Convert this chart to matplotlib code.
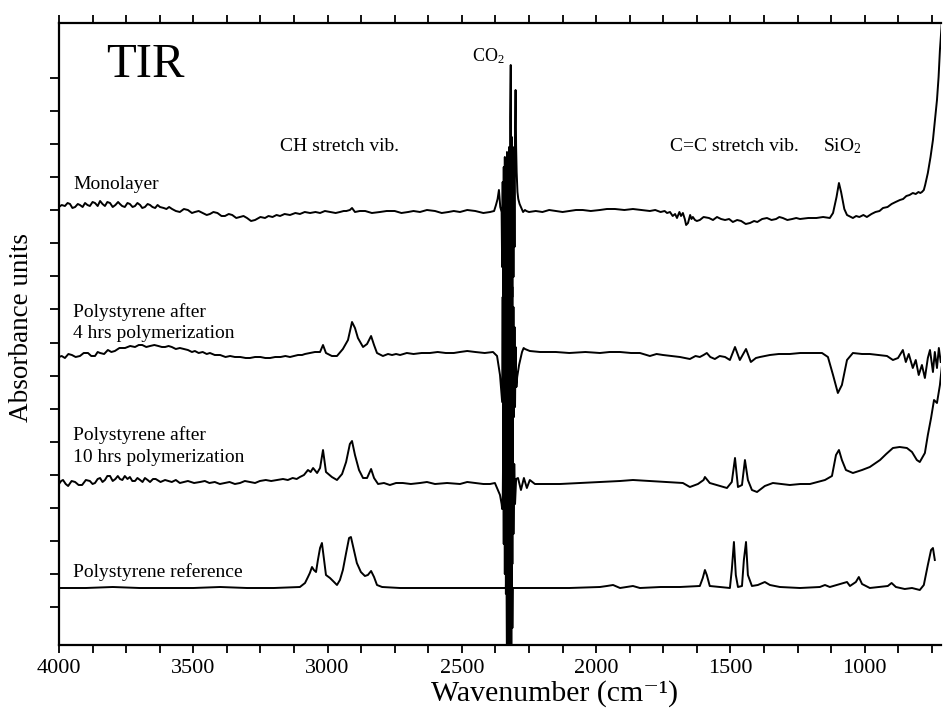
import numpy as np
import matplotlib.pyplot as plt
from matplotlib.ticker import MultipleLocator, FixedLocator

# Times-like serif, as in the scanned figure
plt.rcParams['font.family'] = ['Liberation Serif', 'DejaVu Serif']
plt.rcParams['mathtext.fontset'] = 'custom'
plt.rcParams['mathtext.rm'] = 'Liberation Serif'
plt.rcParams['mathtext.it'] = 'Liberation Serif:italic'

# --- spectra: (wavenumber cm-1, absorbance in arbitrary units) ---
monolayer = [
    (4000, 0), (3990, 2), (3978, 1), (3968, 4), (3959, 3), (3950, -1), (3940, 0), (3930, 3),
    (3922, 2), (3912, 0), (3903, 4), (3894, 2), (3885, 1), (3875, 5), (3866, 4), (3856, 1),
    (3847, 6), (3838, 3), (3829, 1), (3820, 5), (3810, 4), (3800, 0), (3790, 2), (3780, 5),
    (3773, 3), (3765, 1), (3755, 0), (3745, 4), (3736, 3), (3726, 0), (3717, 1), (3708, 4),
    (3698, 2), (3690, -1), (3680, 0), (3670, 3), (3661, 2), (3652, 0), (3642, -1), (3633, 2),
    (3624, 0), (3610, -1), (3600, -2), (3590, 0), (3579, -2), (3565, -4), (3550, -5),
    (3535, -2), (3520, -3), (3505, -6), (3494, -5), (3480, -4), (3465, -6), (3450, -8),
    (3438, -7), (3425, -5), (3410, -6), (3395, -9), (3382, -9), (3368, -7), (3355, -8),
    (3340, -11), (3326, -10), (3313, -9), (3300, -11), (3285, -14), (3270, -13), (3250, -10),
    (3233, -11), (3220, -9), (3205, -10), (3190, -8), (3177, -9), (3160, -7), (3140, -8),
    (3120, -6), (3103, -7), (3085, -5), (3065, -6), (3045, -5), (3028, -6), (3010, -4),
    (2990, -5), (2970, -6), (2954, -5), (2940, -4), (2930, -4), (2917, -3), (2909, -1),
    (2898, -5), (2880, -4), (2860, -4), (2835, -6), (2805, -5), (2780, -4), (2750, -4),
    (2725, -6), (2700, -5), (2680, -4), (2656, -5), (2630, -3), (2600, -4), (2575, -6),
    (2550, -5), (2530, -4), (2507, -5), (2480, -3), (2450, -4), (2420, -6), (2395, -5),
    (2380, -4), (2373, 2), (2367, 8), (2362, 17), (2357, 0),
    (2352, -5), (2350, -60), (2348, 25), (2346, -110), (2344, 40), (2342, -150), (2340, 50),
    (2338, -170), (2336, 45), (2334, -160), (2332, 55), (2330, -175), (2328, 50), (2326, -150),
    (2324, 60), (2322, -120), (2320, 90), (2318, 142), (2316, -100), (2314, 70), (2312, -90),
    (2310, 60), (2308, -70), (2306, 50), (2304, -40), (2302, 80), (2300, 117), (2298, 60),
    (2296, 35), (2293, 15), (2290, 8), (2285, 3), (2280, 0), (2272, -5), (2265, -3),
    (2260, -4), (2250, -5), (2225, -4), (2200, -5), (2175, -3), (2150, -4), (2125, -5),
    (2100, -4), (2075, -3), (2050, -3), (2020, -4), (1986, -3), (1960, -2), (1930, -2),
    (1895, -3), (1863, -2), (1830, -3), (1800, -4), (1780, -3), (1760, -5), (1745, -4),
    (1736, -6), (1725, -5), (1715, -9), (1706, -7), (1699, -11), (1690, -5), (1684, -9),
    (1677, -6), (1670, -12), (1665, -18), (1658, -16), (1650, -8), (1645, -12), (1640, -10),
    (1632, -13), (1625, -14), (1614, -13), (1600, -10), (1580, -11), (1565, -13), (1550, -10),
    (1535, -12), (1520, -13), (1505, -12), (1491, -15), (1475, -13), (1460, -14), (1443, -17),
    (1427, -16), (1412, -14), (1400, -15), (1382, -12), (1364, -11), (1347, -13), (1330, -12),
    (1318, -10), (1305, -11), (1288, -13), (1270, -12), (1255, -11), (1241, -12), (1210, -11),
    (1180, -11), (1155, -10), (1130, -11), (1118, -6), (1105, 10), (1096, 24), (1088, 15),
    (1076, -2), (1066, -8), (1044, -11), (1032, -9), (1020, -10), (1005, -8), (992, -10),
    (975, -7), (960, -5), (945, -4), (932, -1), (915, 0), (900, 3), (885, 5), (869, 7),
    (857, 8), (845, 11), (833, 12), (821, 14), (810, 13), (800, 15), (793, 14), (787, 15),
    (780, 17), (775, 22), (765, 34), (755, 50), (746, 67), (738, 88), (731, 107), (725, 130),
    (720, 157), (713, 184),
]

ps_4h = [
    (4000, 0), (3990, 1), (3978, -1), (3965, 3), (3952, 2), (3938, 0), (3922, 1), (3908, 4),
    (3892, 4), (3880, 1), (3866, 1), (3856, 5), (3847, 4), (3832, 3), (3818, 7), (3805, 5),
    (3792, 6), (3775, 9), (3754, 9), (3735, 11), (3717, 10), (3703, 12), (3690, 12),
    (3675, 10), (3661, 11), (3645, 12), (3630, 11), (3617, 10), (3605, 10), (3592, 11),
    (3580, 10), (3565, 8), (3550, 9), (3535, 8), (3520, 7), (3505, 5), (3494, 6), (3480, 4),
    (3465, 5), (3450, 3), (3438, 4), (3420, 2), (3400, 2), (3380, 0), (3363, 1), (3345, 0),
    (3325, 0), (3305, -1), (3289, -1), (3270, 0), (3250, 0), (3232, -1), (3214, -1),
    (3195, 0), (3175, 0), (3157, 1), (3140, 0), (3125, 1), (3110, 2), (3095, 2), (3084, 3),
    (3065, 4), (3047, 5), (3028, 5), (3017, 12), (3006, 4), (2984, 1), (2965, 1), (2943, 8),
    (2924, 17), (2909, 35), (2898, 29), (2887, 19), (2868, 10), (2853, 13), (2838, 21),
    (2827, 12), (2816, 4), (2794, 1), (2775, 3), (2760, 2), (2745, 3), (2730, 2), (2705, 4),
    (2680, 3), (2650, 4), (2619, 4), (2590, 5), (2560, 4), (2530, 4), (2507, 5), (2480, 6),
    (2450, 5), (2415, 4), (2384, 5), (2369, 1), (2358, -18), (2352, -38),
    (2350, -45), (2348, 60), (2346, -90), (2344, 100), (2342, -120), (2340, 120), (2338, -130),
    (2336, 125), (2334, -130), (2332, 125), (2330, -135), (2328, 120), (2326, -130),
    (2324, 110), (2322, -120), (2320, 100), (2318, -110), (2316, 90), (2314, -100), (2312, 70),
    (2310, -80), (2308, 50), (2306, -60), (2304, 30), (2302, -50), (2300, 10), (2297, -30),
    (2294, -20), (2287, -8), (2276, 5), (2270, 9), (2265, 8), (2247, 6), (2209, 5), (2150, 5),
    (2100, 4), (2040, 5), (1986, 4), (1950, 5), (1911, 5), (1870, 4), (1837, 4), (1800, 1),
    (1775, 3), (1751, 2), (1720, 1), (1688, 0), (1670, -1), (1651, -2), (1630, 1), (1614, 0),
    (1600, 2), (1588, 4), (1575, 0), (1558, -2), (1540, 1), (1520, 0), (1502, -3), (1483, 10),
    (1465, -3), (1442, 8), (1424, -5), (1405, -1), (1390, 0), (1353, 2), (1320, 3), (1279, 3),
    (1240, 4), (1204, 4), (1159, 4), (1137, 0), (1118, -18), (1100, -36), (1085, -28),
    (1066, -3), (1044, 4), (1010, 3), (981, 3), (950, 2), (917, 1), (895, -3), (876, -1),
    (858, 7), (847, -5), (836, 3), (821, -11), (810, -3), (799, -18), (787, -8), (776, -21),
    (765, -1), (757, 7), (746, -15), (739, 5), (731, -11), (724, 9), (717, -5),
]

ps_10h = [
    (4000, 0), (3992, 3), (3985, 4), (3975, 0), (3966, -2), (3953, 3), (3940, 2), (3927, -1),
    (3914, -1), (3900, 4), (3885, 3), (3875, 0), (3866, 1), (3856, 5), (3847, 6), (3838, 2),
    (3829, 4), (3820, 8), (3810, 8), (3800, 3), (3790, 5), (3781, 8), (3773, 5), (3764, 4),
    (3755, 8), (3745, 5), (3736, 7), (3727, 3), (3717, 3), (3708, 6), (3698, 4), (3689, 2),
    (3680, 6), (3670, 4), (3661, 2), (3650, 5), (3640, 5), (3622, 2), (3605, 4), (3592, 3),
    (3580, 2), (3565, 4), (3550, 1), (3535, 2), (3520, 3), (3497, 1), (3475, 2), (3457, 3),
    (3440, 1), (3420, 2), (3401, 0), (3383, 1), (3365, 2), (3345, 0), (3326, 1), (3308, 3),
    (3290, 2), (3270, 1), (3252, 3), (3230, 4), (3210, 3), (3188, 4), (3166, 5), (3148, 4),
    (3130, 6), (3115, 5), (3103, 7), (3088, 9), (3073, 14), (3063, 12), (3054, 16),
    (3039, 11), (3028, 16), (3017, 34), (3006, 12), (2984, 7), (2965, 4), (2946, 10),
    (2931, 22), (2917, 40), (2909, 43), (2898, 29), (2883, 14), (2868, 6), (2853, 6),
    (2838, 15), (2827, 6), (2812, 0), (2790, 1), (2768, -1), (2745, 1), (2720, 1), (2690, 0),
    (2656, 1), (2630, 2), (2600, 0), (2555, 1), (2507, 0), (2480, 2), (2450, 1), (2420, 0),
    (2395, 0), (2377, 1), (2366, -6), (2358, -11), (2352, -20),
    (2350, -25), (2348, -20), (2346, 40), (2344, -60), (2342, 80), (2340, -90), (2338, 110),
    (2336, -110), (2334, 120), (2332, -115), (2330, 124), (2328, -116), (2326, 120),
    (2324, -115), (2322, 115), (2320, -110), (2318, 100), (2316, -100), (2314, 80),
    (2312, -80), (2310, 50), (2308, -50), (2305, 20), (2302, -20), (2298, 5), (2291, 6),
    (2280, -6), (2269, 6), (2258, -4), (2247, 4), (2228, 0), (2180, 0), (2135, 0), (2060, 1),
    (1986, 2), (1911, 3), (1863, 4), (1800, 3), (1736, 2), (1677, 1), (1651, -3), (1621, 0),
    (1600, 4), (1595, 7), (1577, 1), (1539, -2), (1513, -4), (1495, 2), (1483, 26), (1472, -3),
    (1457, -1), (1446, 24), (1435, 4), (1420, -6), (1401, -8), (1372, -2), (1342, 1),
    (1310, 0), (1279, -1), (1240, 0), (1204, 0), (1148, 4), (1122, 8), (1107, 29), (1096, 34),
    (1085, 24), (1070, 14), (1044, 11), (1010, 14), (981, 17), (943, 24), (920, 30), (895, 36),
    (870, 37), (843, 36), (824, 32), (806, 24), (795, 22), (776, 31), (765, 49), (753, 66),
    (742, 84), (731, 81), (720, 99), (713, 117),
]

ps_ref = [
    (4000, 0), (3900, 0), (3800, 1), (3700, 0), (3600, 0), (3500, 0), (3400, 1), (3300, 0),
    (3200, 0), (3103, 1), (3084, 5), (3073, 11), (3066, 15), (3058, 21), (3051, 18),
    (3043, 16), (3036, 28), (3028, 40), (3021, 45), (3013, 28), (3006, 13), (2991, 10),
    (2976, 6), (2965, 3), (2954, 8), (2943, 18), (2931, 35), (2920, 50), (2913, 51),
    (2902, 38), (2891, 25), (2876, 16), (2861, 12), (2850, 13), (2838, 17), (2827, 11),
    (2816, 3), (2797, 1), (2730, 0), (2600, 0), (2500, 0), (2400, 0), (2358, 0), (2340, 0),
    (2336, 0), (2334, 30), (2332, -90), (2330, 88), (2328, -95), (2326, 85), (2324, -95),
    (2322, 80), (2320, -95), (2318, 60), (2316, -90), (2314, 30), (2312, -40), (2310, 0),
    (2284, 0), (2200, 0), (2100, 0), (1986, 1), (1960, 2), (1937, 3), (1911, 0), (1863, 2),
    (1837, 0), (1760, 1), (1688, 1), (1614, 2), (1603, 10), (1595, 18), (1588, 13), (1577, 2),
    (1539, 1), (1502, 0), (1495, 18), (1487, 46), (1480, 13), (1472, 1), (1457, 2), (1450, 28),
    (1442, 46), (1435, 13), (1420, 2), (1398, 3), (1372, 6), (1353, 3), (1316, 1), (1241, 0),
    (1167, 1), (1148, 3), (1130, 1), (1066, 6), (1055, 2), (1033, 6), (1022, 11), (1010, 4),
    (981, 0), (914, 2), (900, 5), (884, 1), (851, -1), (824, 0), (795, -2), (780, 3),
    (765, 23), (753, 38), (746, 40), (739, 28),
]

spectra = [monolayer, ps_4h, ps_10h, ps_ref]
offsets = [438, 288, 161, 57]

fig = plt.figure(figsize=(9.43, 7.09), dpi=100)
ax = fig.add_axes([59 / 943, 64 / 709, 882 / 943, 622 / 709])

for spec, off in zip(spectra, offsets):
    wn, a = np.array(spec, dtype=float).T
    ax.plot(wn, a + off, color='black', lw=1.4)

ax.set_xlim(4000, 716)
ax.set_ylim(0, 622)

# ticks
ax.xaxis.set_major_locator(MultipleLocator(500))
ax.xaxis.set_minor_locator(MultipleLocator(125))
ax.yaxis.set_major_locator(FixedLocator([38 + 33.06 * k for k in range(17)]))
ax.tick_params(axis='x', which='both', direction='out', top=True, bottom=True,
               length=6, width=1.3, labelsize=16, pad=4)
ax.tick_params(axis='y', which='both', direction='out', left=True, right=False,
               length=6.5, width=1.3, labelleft=False)
for side in ['left', 'bottom', 'top']:
    ax.spines[side].set_linewidth(1.6)
ax.spines['right'].set_visible(False)

# annotations
ax.text(3825, 568, 'TIR', fontsize=35)
ax.text(2462, 584, 'CO$_2$', fontsize=13)
ax.text(3177, 494, 'CH stretch vib.', fontsize=14)
ax.text(1725, 494, 'C=C stretch vib.', fontsize=14)
ax.text(1156, 494, 'SiO$_2$', fontsize=14)

ax.text(3948, 456, 'Monolayer', fontsize=14)
ax.text(3948, 328, 'Polystyrene after', fontsize=14)
ax.text(3948, 307, '4 hrs polymerization', fontsize=14)
ax.text(3948, 205, 'Polystyrene after', fontsize=14)
ax.text(3948, 183, '10 hrs polymerization', fontsize=14)
ax.text(3948, 68, 'Polystyrene reference', fontsize=14)

fig.text(22 / 943, 1 - 328 / 709, 'Absorbance units', rotation=90,
         ha='center', va='center', fontsize=19.5)
fig.text(555 / 943, 1 - 701 / 709, 'Wavenumber (cm\u207b\u00b9)',
         ha='center', va='baseline', fontsize=21.5)

fig.savefig('out.png', dpi=100)
